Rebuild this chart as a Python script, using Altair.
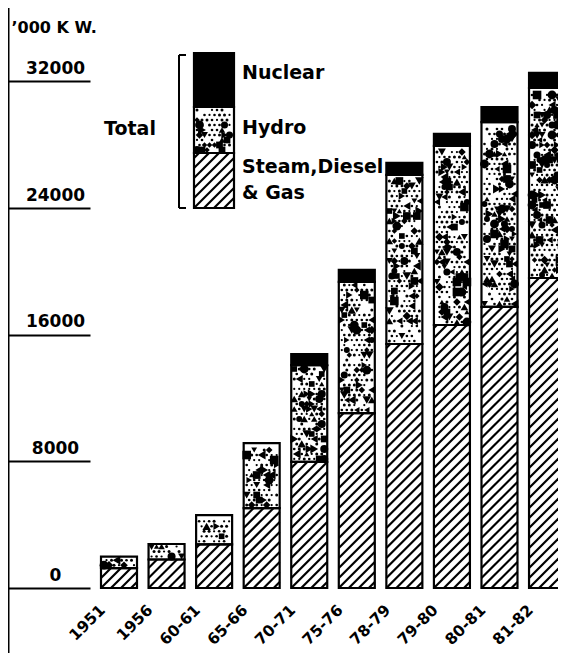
import math
import altair as alt
import pandas as pd

# ---------------- data ----------------
periods = ["1951", "1956", "60-61", "65-66", "70-71", "75-76", "78-79", "79-80", "80-81", "81-82"]
steam = [1250, 1800, 2760, 5050, 7960, 11050, 15410, 16610, 17750, 19580]
hydro = [730, 980, 1840, 4100, 6120, 8280, 10680, 11310, 11680, 12000]
nuclear = [0, 0, 0, 0, 700, 760, 760, 760, 950, 950]
tick_values = [0, 8000, 16000, 24000, 32000]
legend_labels = ["Nuclear", "Hydro", "Steam,Diesel", "& Gas"]

# ---------------- layout ----------------
W, H = 550, 580            # svg must stay within the 550px wide page body
PX_X = 47.56               # pixels per bar step
XMIN = -111 / PX_X
XMAX = XMIN + W / PX_X
YMAX = 36632
PX_Y = H / YMAX
BAR_HW = 18 / PX_X
LEG_XC, LEG_HW = 1.9975, 20 / PX_X
LEG_LEVELS = [24000, 27475, 30380, 33790]
FONT = "DejaVu Sans"
HATCH_PX = 10

# ---------------- tables built from the arrays ----------------
rows = []
for i, p in enumerate(periods):
    s, h, n = steam[i], hydro[i], nuclear[i]
    parts = [("steam", 0, s), ("hydro", s, s + h), ("nuclear", s + h, s + h + n)]
    for part, a, b in parts:
        if b > a:
            rows.append(dict(period=p, part=part, xl=i - BAR_HW, xr=i + BAR_HW, y0=a, y1=b))
for k, part in enumerate(["steam", "hydro", "nuclear"]):
    rows.append(dict(period="legend", part=part, xl=LEG_XC - LEG_HW, xr=LEG_XC + LEG_HW,
                     y0=LEG_LEVELS[k], y1=LEG_LEVELS[k + 1]))
seg = pd.DataFrame(rows)


def hatch(xc, hw, v0, v1):
    """Diagonal hatch lines (45 degrees on screen) clipped to a bar segment."""
    out = []
    slope = PX_X / PX_Y
    step = HATCH_PX / PX_Y
    xl = xc - hw
    span = slope * 2 * hw
    for k in range(math.floor((v0 - span) / step), math.ceil(v1 / step) + 1):
        c = k * step
        xa = max(0.0, (v0 - c) / slope)
        xb = min(2 * hw, (v1 - c) / slope)
        if xb - xa > 0.02:
            out.append(dict(x=xl + xa, x2=xl + xb, y=c + slope * xa, y2=c + slope * xb))
    return out


def texture_hash(a, b, c):
    h = (a * 374761393 + b * 668265263 + c * 2246822519) & 0xFFFFFFFF
    h = ((h ^ (h >> 13)) * 1274126177) & 0xFFFFFFFF
    h ^= h >> 16
    return h % 100


def stipple(seed, xc, hw, v0, v1):
    """Stipple texture (dots and blobs) for the hydro segments."""
    out = []
    wpx = 2 * hw * PX_X
    hpx = (v1 - v0) * PX_Y
    shapes = ["triangle-up", "diamond", "square", "triangle-down", "circle",
              "triangle-left", "triangle-right"]
    r = 0
    ypx = 3.0
    while ypx < hpx - 2:
        xpx = 3.0 + (2.5 if r % 2 else 0.0)
        c = 0
        while xpx < wpx - 2:
            hv = texture_hash(seed, r, c)
            if hv < 28:
                out.append(dict(x=xc - hw + xpx / PX_X, y=v0 + ypx / PX_Y,
                                sz=28 + hv * 2, shp=shapes[hv % 7]))
            elif hv < 85:
                out.append(dict(x=xc - hw + xpx / PX_X, y=v0 + ypx / PX_Y,
                                sz=5 + (hv % 3) * 2, shp="circle"))
            xpx += 5
            c += 1
        ypx += 5
        r += 1
    return out


h_rows, d_rows = [], []
for idx, r in seg.iterrows():
    xc = (r.xl + r.xr) / 2
    hw = (r.xr - r.xl) / 2
    if r.part == "steam":
        h_rows += hatch(xc, hw, r.y0, r.y1)
    elif r.part == "hydro":
        d_rows += stipple(idx + 1, xc, hw, r.y0, r.y1)
hatch_df = pd.DataFrame(h_rows)
dots_df = pd.DataFrame(d_rows)

xscale = alt.Scale(domain=[XMIN, XMAX], nice=False, zero=False)
yscale = alt.Scale(domain=[0, YMAX], nice=False, zero=False)
label_expr = "[" + ",".join("'%s'" % p for p in periods) + "][datum.value]"

x_axis = alt.Axis(values=list(range(len(periods))), labelExpr=label_expr, labelAngle=315,
                  labelAlign="right", labelBaseline="middle", labelOffset=-17, labelPadding=19,
                  ticks=False, tickSize=0, domain=False, grid=False, title=None,
                  labelFont=FONT, labelFontSize=15.5, labelFontWeight="bold", labelColor="black",
                  labelOverlap=False, labelFlush=False, labelBound=False)
y_axis = alt.Axis(values=tick_values, format="d", orient="left", offset=-82, tickSize=82,
                  tickWidth=2, tickColor="black", domain=False, grid=False, labelPadding=-47,
                  labelAlign="center", labelBaseline="bottom", labelOffset=-4,
                  labelFont=FONT, labelFontSize=17, labelFontWeight="bold", labelColor="black",
                  labelFlush=False, labelBound=False,
                  title="\u2019000 K W.", titleAngle=0, titleX=-79, titleY=24, titleAlign="left",
                  titleBaseline="alphabetic", titleFont=FONT, titleFontSize=16,
                  titleFontWeight="bold", titleColor="black")

fills = alt.Chart(seg).mark_rect(strokeWidth=0).encode(
    x=alt.X("xl:Q", scale=xscale, axis=x_axis),
    x2="xr:Q",
    y=alt.Y("y0:Q", scale=yscale, axis=y_axis),
    y2="y1:Q",
    fill=alt.Fill("part:N", scale=alt.Scale(domain=["steam", "hydro", "nuclear"],
                                            range=["white", "white", "black"]), legend=None),
)

dots = alt.Chart(dots_df).mark_point(filled=True, color="black", opacity=1, strokeWidth=0).encode(
    x=alt.X("x:Q", scale=xscale, axis=x_axis),
    y=alt.Y("y:Q", scale=yscale, axis=y_axis),
    size=alt.Size("sz:Q", scale=None),
    shape=alt.Shape("shp:N", scale=None),
)

hatches = alt.Chart(hatch_df).mark_rule(color="black", strokeWidth=2.2).encode(
    x=alt.X("x:Q", scale=xscale, axis=x_axis),
    x2="x2:Q",
    y=alt.Y("y:Q", scale=yscale, axis=y_axis),
    y2="y2:Q",
)

outlines = alt.Chart(seg).mark_rect(fillOpacity=0, stroke="black", strokeWidth=2.2).encode(
    x=alt.X("xl:Q", scale=xscale, axis=x_axis),
    x2="xr:Q",
    y=alt.Y("y0:Q", scale=yscale, axis=y_axis),
    y2="y1:Q",
)

one = pd.DataFrame({"a": [0]})
vline = alt.Chart(one).mark_rule(color="black", strokeWidth=3).encode(
    x=alt.value(0), y=alt.value(0), y2=alt.value(660))
br_v = alt.Chart(one).mark_rule(color="black", strokeWidth=2).encode(
    x=alt.value(171), y=alt.value(47), y2=alt.value(200))
br_t = alt.Chart(one).mark_rule(color="black", strokeWidth=2).encode(
    x=alt.value(171), x2=alt.value(178), y=alt.value(47))
br_b = alt.Chart(one).mark_rule(color="black", strokeWidth=2).encode(
    x=alt.value(171), x2=alt.value(178), y=alt.value(200))


def label(txt, x, y, align="left"):
    return alt.Chart(one).mark_text(text=txt, font=FONT, fontSize=19, fontWeight="bold",
                                    color="black", align=align, baseline="middle").encode(
        x=alt.value(x), y=alt.value(y))


texts = [label(legend_labels[0], 234, 65), label(legend_labels[1], 234, 120),
         label(legend_labels[2], 234, 159), label(legend_labels[3], 234, 185),
         label("Total", 122, 121, "center")]

chart = alt.layer(fills, dots, hatches, outlines, vline, br_v, br_t, br_b, *texts).properties(
    width=W, height=H, background="white",
    autosize=alt.AutoSizeParams(type="none"),
    padding={"left": 0, "top": 0, "right": 0, "bottom": 65},
).configure_view(stroke=None)

chart.save("out.html", embed_options={"renderer": "svg", "actions": False})
